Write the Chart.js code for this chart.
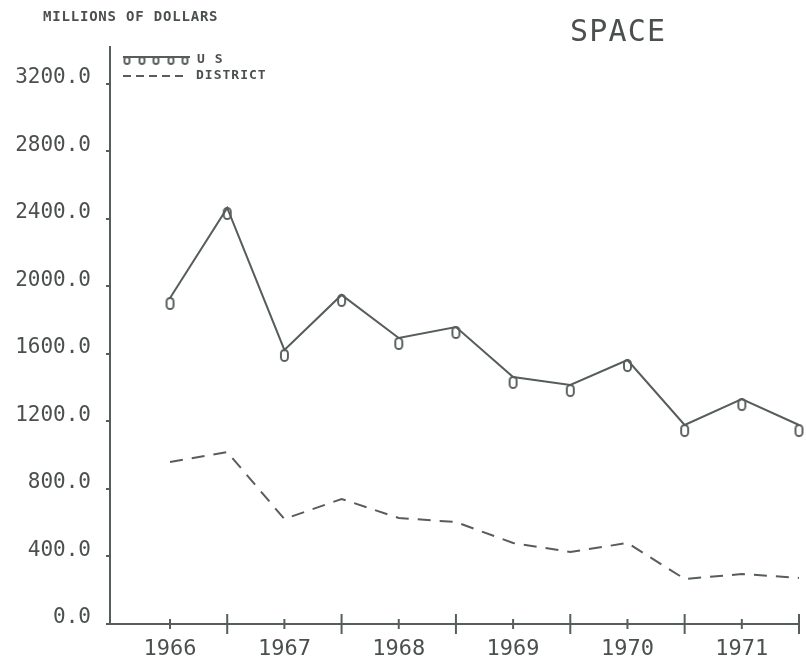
<!DOCTYPE html>
<html>
<head>
<meta charset="utf-8">
<script src="https://cdn.jsdelivr.net/npm/chart.js@4"></script>
<style>
  body { margin: 0; background: #fff; }
  #wrap { width: 806px; height: 660px; }
</style>
</head>
<body>
<div id="wrap"><canvas id="myChart" width="806" height="660"></canvas></div>
<script>
// half-year periods, 1966 to 1971
var periods = ['1966 H1','1966 H2','1967 H1','1967 H2','1968 H1','1968 H2',
               '1969 H1','1969 H2','1970 H1','1970 H2','1971 H1','1971 H2'];
var years = ['1966','1967','1968','1969','1970','1971'];
var usValues = [1932, 2465, 1624, 1950, 1695, 1760, 1464, 1416, 1564, 1179, 1333, 1179];
var districtValues = [960, 1019, 622, 741, 628, 604, 480, 427, 480, 267, 296, 273];
var yTicks = [0, 400, 800, 1200, 1600, 2000, 2400, 2800, 3200];

var ink = '#565d5c';
var textInk = '#4c4f4f';
var mono = "'DejaVu Sans Mono', monospace";

// the "0" plot symbol, hanging below the vertex
function makeMarker(w, h) {
    var c = document.createElement('canvas');
    c.width = w + 4;
    c.height = h * 2 + 4;
    var g = c.getContext('2d');
    g.strokeStyle = ink;
    g.lineWidth = 1.9;
    g.beginPath();
    g.roundRect(2, c.height / 2, w, h, w / 2);
    g.stroke();
    return c;
}
var marker = makeMarker(7, 11);

function toPoints(vals) {
    return vals.map(function (v, i) { return { x: i, y: v }; });
}

var extras = {
    id: 'extras',
    afterDraw: function (chart) {
        var ctx = chart.ctx;
        var xs = chart.scales.x;
        var bottom = chart.chartArea.bottom;
        ctx.save();
        // x axis tick marks, long ones between years
        ctx.strokeStyle = ink;
        ctx.lineWidth = 2;
        for (var i = 0; i < periods.length; i++) {
            var px = xs.getPixelForValue(i);
            var len = (i % 2) ? 10 : 5;
            ctx.beginPath();
            ctx.moveTo(px, bottom - len);
            ctx.lineTo(px, bottom + len);
            ctx.stroke();
        }
        // legend
        ctx.lineWidth = 1.8;
        ctx.beginPath();
        ctx.moveTo(123, 57);
        ctx.lineTo(190, 57);
        ctx.stroke();
        var small = makeMarker(5, 7);
        [127, 142, 156, 171, 185].forEach(function (mx) {
            ctx.drawImage(small, mx - small.width / 2, 57 - small.height / 2);
        });
        ctx.setLineDash([8, 5]);
        ctx.beginPath();
        ctx.moveTo(123, 76);
        ctx.lineTo(188, 76);
        ctx.stroke();
        ctx.setLineDash([]);

        ctx.fillStyle = textInk;
        ctx.textBaseline = 'middle';
        ctx.font = 'bold 14px ' + mono;
        ctx.letterSpacing = '0.8px';
        ctx.fillText('MILLIONS OF DOLLARS', 43, 17);
        ctx.font = 'bold 13px ' + mono;
        ctx.letterSpacing = '1px';
        ctx.fillText('U S', 197, 60);
        ctx.fillText('DISTRICT', 196, 76);
        ctx.font = '30px ' + mono;
        ctx.letterSpacing = '1.2px';
        ctx.fillText('SPACE', 570, 33);
        ctx.restore();
    }
};

var ctx = document.getElementById('myChart').getContext('2d');
var chart = new Chart(ctx, {
    type: 'line',
    data: {
        datasets: [{
            label: 'U S',
            data: toPoints(usValues),
            borderColor: ink,
            borderWidth: 2,
            pointStyle: marker,
            pointRadius: 5,
            clip: false
        }, {
            label: 'DISTRICT',
            data: toPoints(districtValues),
            borderColor: ink,
            borderWidth: 2,
            borderDash: [13, 9],
            pointRadius: 0,
            clip: false
        }]
    },
    options: {
        responsive: false,
        animation: false,
        events: [],
        layout: { padding: { top: 47, right: 3, left: 0, bottom: 0 } },
        plugins: { legend: { display: false }, tooltip: { enabled: false } },
        scales: {
            x: {
                type: 'linear',
                min: -1.05,
                max: 11,
                afterFit: function (s) {
                    s.height = 36;
                    s.paddingLeft = 0;
                    s.paddingRight = 0;
                },
                afterBuildTicks: function (s) {
                    s.ticks = periods.map(function (p, i) { return { value: i }; });
                },
                border: { color: ink, width: 2 },
                grid: { display: true, drawOnChartArea: false, drawTicks: false },
                ticks: {
                    autoSkip: false,
                    maxRotation: 0,
                    padding: 12,
                    color: textInk,
                    font: { family: mono, size: 22 },
                    callback: function (v) {
                        return (v % 2 === 0) ? years[v / 2] : '';
                    }
                }
            },
            y: {
                min: 0,
                max: 3419,
                afterFit: function (s) { s.width = 110; },
                afterBuildTicks: function (s) {
                    s.ticks = yTicks.map(function (v) { return { value: v }; });
                },
                border: { color: ink, width: 2 },
                grid: { drawOnChartArea: false, drawTicks: true, tickLength: 4, color: ink, lineWidth: 2 },
                ticks: {
                    padding: 15,
                    labelOffset: -6,
                    color: textInk,
                    font: { family: mono, size: 21 },
                    callback: function (v) { return v.toFixed(1); }
                }
            }
        }
    },
    plugins: [extras]
});
</script>
</body>
</html>
